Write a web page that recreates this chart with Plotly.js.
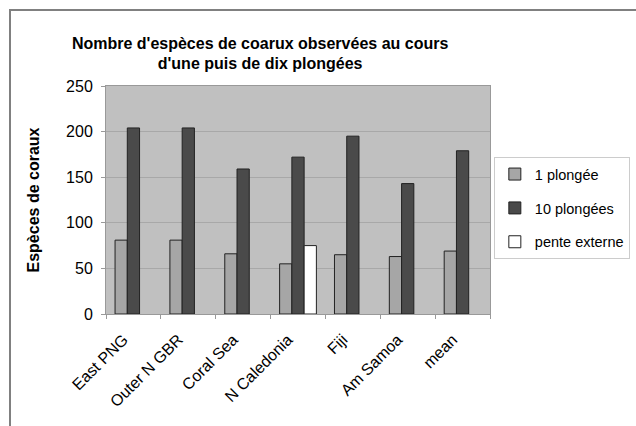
<!DOCTYPE html>
<html>
<head>
<meta charset="utf-8">
<script src="https://cdn.plot.ly/plotly-3.0.1.min.js"></script>
<style>
html,body{margin:0;padding:0;background:#fff;}
#wrap{position:relative;width:636px;height:426px;overflow:hidden;}
#chart{width:636px;height:426px;}
#frame{position:absolute;left:9px;top:9px;width:700px;height:500px;border-top:2px solid #808080;border-left:2px solid #808080;pointer-events:none;}
</style>
</head>
<body>
<div id="wrap"><div id="chart"></div><div id="frame"></div></div>
<script>
const categories = ["East PNG", "Outer N GBR", "Coral Sea", "N Caledonia", "Fiji", "Am Samoa", "mean"];
const unePlongee = [81, 81, 66, 55, 65, 63, 69];
const dixPlongees = [204, 204, 159, 172, 195, 143, 179];
const penteExterne = [null, null, null, 75, null, null, null];
const seriesNames = ["1 plongée", "10 plongées", "pente externe"];
const yTicks = [0, 50, 100, 150, 200, 250];

const F = "Liberation Sans, Arial, sans-serif";
const lineStyle = {color: "#222", width: 1};
const traces = [
  {type: "bar", name: seriesNames[0], x: categories, y: unePlongee, marker: {color: "#a6a6a6", line: lineStyle}, legendgroup: "a"},
  {type: "bar", name: seriesNames[1], x: categories, y: dixPlongees, marker: {color: "#4a4a4a", line: lineStyle}, legendgroup: "b"},
  {type: "bar", name: seriesNames[2], x: categories, y: penteExterne, marker: {color: "#ffffff", line: lineStyle}, legendgroup: "c"}
];

const layout = {
  width: 636, height: 426,
  margin: {l: 106, r: 146, t: 86, b: 112, autoexpand: false},
  paper_bgcolor: "#ffffff",
  plot_bgcolor: "#c0c0c0",
  barmode: "group",
  bargap: 0.33,
  bargroupgap: 0,
  showlegend: true,
  font: {family: F, color: "#000"},
  title: {
    text: "<b>Nombre d'espèces de coarux observées au cours<br>d'une puis de dix plongées</b>",
    font: {family: F, size: 16, color: "#000"},
    xref: "container", x: 0.409, xanchor: "center",
    yref: "container", y: 0.886, yanchor: "top"
  },
  xaxis: {
    type: "category",
    tickangle: -45,
    tickfont: {family: F, size: 16, color: "#000"},
    ticks: "outside", tickson: "boundaries", ticklen: 4, tickcolor: "#999",
    ticklabelstandoff: 9,
    ticklabelshift: -10,
    showline: true, linecolor: "#999", linewidth: 1, mirror: true,
    showgrid: false, fixedrange: true
  },
  yaxis: {
    range: [0, 250],
    tickvals: yTicks,
    ticktext: yTicks.map(String),
    tickfont: {family: F, size: 16, color: "#000"},
    ticks: "outside", ticklen: 4, tickcolor: "#999",
    ticklabelstandoff: 5,
    showline: true, linecolor: "#999", linewidth: 1, mirror: true,
    showgrid: true, gridcolor: "#a8a8a8", gridwidth: 1,
    zeroline: false,
    title: {text: "<b>Espèces de coraux</b>", font: {family: F, size: 16, color: "#000"}, standoff: 22}
  },
  legend: {
    x: 1.01, xanchor: "left", y: 0.688, yanchor: "top",
    bgcolor: "#ffffff", bordercolor: "#cccccc", borderwidth: 1,
    font: {family: F, size: 14.5, color: "#000"},
    traceorder: "grouped", tracegroupgap: 12,
    itemwidth: 30
  }
};

Plotly.newPlot("chart", traces, layout, {displayModeBar: false, staticPlot: true});
</script>
</body>
</html>
